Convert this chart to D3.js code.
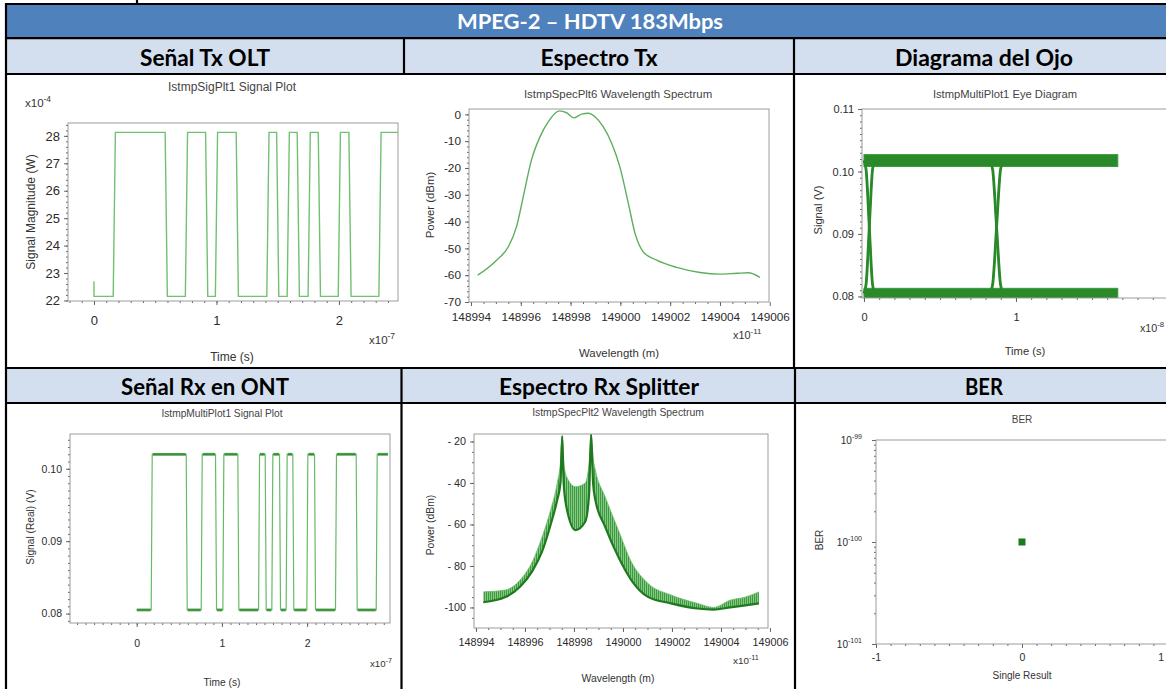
<!DOCTYPE html>
<html>
<head>
<meta charset="utf-8">
<script src="https://cdn.jsdelivr.net/npm/d3@7"></script>
<style>
  html, body { margin: 0; padding: 0; background: #fff; }
  svg { display: block; }
</style>
</head>
<body>
<svg id="chart" width="1166" height="689"></svg>
<script>
// ---------------- table text ----------------
const tableTitle = "MPEG-2 – HDTV 183Mbps";
const headersRow1 = ["Señal Tx OLT", "Espectro Tx", "Diagrama del Ojo"];
const headersRow2 = ["Señal Rx en ONT", "Espectro Rx Splitter", "BER"];

// ---------------- Tx signal (x10^-4 W vs x10^-7 s) ----------------
const txEdges = [0.166, 0.59, 0.755, 0.92, 1.0, 1.17, 1.42, 1.50, 1.586, 1.668, 1.757, 1.84, 2.003, 2.09, 2.335];
const txLevels = [22.15, 28.13];      // low, high
const txStartSpike = 22.7;            // value at t = 0
const txEnd = 2.485;

// ---------------- Tx spectrum (x10^-11 m, dBm) ----------------
const txSpecLambda = [148994.27, 148995.03, 148995.5, 148995.83, 148996.1, 148996.43, 148996.77, 148997.1,
  148997.55, 148997.84, 148998.14, 148998.45, 148998.71, 148998.98, 148999.31, 148999.65, 148999.98,
  149000.32, 149000.59, 149000.92, 149001.46, 149002.26, 149003.2, 149004.0, 149004.67, 149005.14, 149005.6];
const txSpecPower = [-60.0, -54.4, -49.4, -41.9, -30.7, -17.0, -8.4, -2.8,
  1.3, 0.6, -1.3, 0.1, 0.4, -0.9, -4.6, -10.8, -19.6,
  -33.2, -44.4, -51.3, -54.4, -57.1, -59.0, -59.6, -59.3, -59.1, -60.8];

// ---------------- Eye diagram (V vs x10^-8 s) ----------------
const eyeBandHigh = [0.1008, 0.1027];
const eyeBandLow = [0.0797, 0.0813];
const eyeSpan = [0, 1.67];
const eyeCrossStart = [0.0, 0.83];
const eyeCrossWidth = [0.07, 0.085];

// ---------------- Rx signal (V vs x10^-7 s) ----------------
const rxEdges = [0.176, 0.587, 0.763, 0.931, 1.017, 1.193, 1.436, 1.514, 1.592, 1.682, 1.76, 1.838, 2.003, 2.093, 2.339, 2.582, 2.817];
const rxLevels = [0.0805, 0.1020];
const rxEnd = 2.95;

// ---------------- Rx spectrum after splitter (x10^-11 m, dBm) ----------------
const rxSpecLambda = [148994.3, 148995.2, 148995.8, 148996.3, 148996.7, 148997.05, 148997.32, 148997.45,
  148997.52, 148997.58, 148997.7, 148998.06, 148998.46, 148998.62, 148998.7, 148998.78, 148998.87,
  148999.27, 148999.81, 149000.34, 149001.02, 149001.96, 149003.03, 149003.7, 149004.38, 149005.0, 149005.55];
const rxSpecUpper = [-92.5, -91.6, -86.8, -78, -66, -53, -40, -30,
  -17.4, -30, -37, -41.8, -40, -30, -16.5, -28, -33.7,
  -46.6, -62.7, -78, -88.4, -94, -98, -100, -96.5, -95, -92.5];
const rxSpecLower = [-97.5, -95, -90, -82.5, -73, -60, -48, -40,
  -17.4, -40, -52, -62.7, -58.7, -45, -16.5, -40, -48,
  -61, -75.6, -86.8, -94.9, -98, -100.5, -101, -100, -99, -98];

// ---------------- BER ----------------
const berX = [0];
const berValue = [1e-100];

// ---------------- drawing ----------------
const svg = d3.select("#chart");
const PLOT_FONT = "'Liberation Sans', Arial, sans-serif";
const TABLE_FONT = "Lato, 'Open Sans', sans-serif";

svg.append("rect").attr("width", 1166).attr("height", 689).attr("fill", "#fff");

// table bands
const T = { left: 6, right: 1174 };
svg.append("rect").attr("x", T.left).attr("y", 4).attr("width", T.right - T.left).attr("height", 34).attr("fill", "#4F81BD");
svg.append("rect").attr("x", T.left).attr("y", 39).attr("width", T.right - T.left).attr("height", 35).attr("fill", "#D3DFEE");
svg.append("rect").attr("x", T.left).attr("y", 369).attr("width", T.right - T.left).attr("height", 34).attr("fill", "#D3DFEE");

// table text
svg.append("text").attr("x", 590).attr("y", 29).attr("text-anchor", "middle")
  .attr("fill", "#fff").style("font-family", TABLE_FONT).style("font-weight", 700).style("font-size", "21px")
  .attr("textLength", 266).attr("lengthAdjust", "spacingAndGlyphs").text(tableTitle);

const colCenters = [205, 599, 984];
const widths1 = [130, 117, 178];
const widths2 = [168, 200, 38];
headersRow1.forEach((h, i) => {
  svg.append("text").attr("x", colCenters[i]).attr("y", 66).attr("text-anchor", "middle")
    .attr("fill", "#000").style("font-family", TABLE_FONT).style("font-weight", 700).style("font-size", "22px")
    .attr("textLength", widths1[i]).attr("lengthAdjust", "spacingAndGlyphs").text(h);
});
headersRow2.forEach((h, i) => {
  svg.append("text").attr("x", colCenters[i]).attr("y", 395).attr("text-anchor", "middle")
    .attr("fill", "#000").style("font-family", TABLE_FONT).style("font-weight", 700).style("font-size", "22px")
    .attr("textLength", widths2[i]).attr("lengthAdjust", "spacingAndGlyphs").text(h);
});

// ---------------- generic instrument-style plot ----------------
let clipId = 0;
function plotPanel(o) {
  const [fx0, fx1, fy0, fy1] = o.frame;
  const g = svg.append("g");
  const x = (o.xLog ? d3.scaleLog() : d3.scaleLinear()).domain(o.xDomain).range([fx0, fx1]);
  const y = (o.yLog ? d3.scaleLog() : d3.scaleLinear()).domain(o.yDomain).range([fy1, fy0]);
  const fs = o.fontSize, tfs = o.tickFont;

  const styleAxis = sel => {
    sel.select(".domain").remove();
    sel.selectAll(".tick line").attr("stroke", "#555").attr("stroke-width", 0.9);
    sel.selectAll(".tick text").attr("fill", "#2b2b2b").style("font-family", PLOT_FONT).style("font-size", tfs + "px");
  };

  // minor + major ticks
  g.append("g").attr("transform", `translate(${fx0},0)`)
    .call(d3.axisLeft(y).tickValues(o.yMinor).tickSize(2).tickFormat("")).call(styleAxis);
  g.append("g").attr("transform", `translate(${fx0},0)`)
    .call(d3.axisLeft(y).tickValues(o.yMajor).tickSize(4).tickPadding(4).tickFormat(o.yFormat || "")).call(styleAxis);
  g.append("g").attr("transform", `translate(0,${fy1})`)
    .call(d3.axisBottom(x).tickValues(o.xMinor).tickSize(2).tickFormat("")).call(styleAxis);
  g.append("g").attr("transform", `translate(0,${fy1})`)
    .call(d3.axisBottom(x).tickValues(o.xMajor).tickSize(4).tickPadding(o.xPad).tickFormat(o.xFormat || (d => String(d)))).call(styleAxis);

  // plot content, clipped to the frame
  const id = "clip" + (clipId++);
  g.append("clipPath").attr("id", id).append("rect")
    .attr("x", fx0).attr("y", fy0).attr("width", fx1 - fx0).attr("height", fy1 - fy0);
  const content = g.append("g").attr("clip-path", `url(#${id})`);

  // frame
  g.append("rect").attr("x", fx0).attr("y", fy0).attr("width", fx1 - fx0).attr("height", fy1 - fy0)
    .attr("fill", "none").attr("stroke", "#9c9c9c").attr("stroke-width", 1);

  const txt = (tx, ty, s, anchor, size, color) => g.append("text").attr("x", tx).attr("y", ty)
    .attr("text-anchor", anchor || "middle").attr("fill", color || "#333")
    .style("font-family", PLOT_FONT).style("font-size", (size || fs) + "px").text(s);

  txt(o.title[0], o.title[1], o.title[2], "middle", fs, "#444");
  txt(o.xTitle[0], o.xTitle[1], o.xTitle[2]);
  g.append("text").attr("transform", `translate(${o.yTitle[0]},${o.yTitle[1]}) rotate(-90)`)
    .attr("text-anchor", "middle").attr("fill", "#333")
    .style("font-family", PLOT_FONT).style("font-size", fs + "px").text(o.yTitle[2]);

  (o.exps || []).forEach(e => {
    const t = txt(e[0], e[1], "x10", "start", fs - 0.5);
    t.append("tspan").attr("dy", -(fs * 0.42)).style("font-size", (fs * 0.7) + "px").text(e[2]);
  });
  return { g, content, x, y };
}

const stepRange = (a, b, s) => d3.range(Math.round(a / s), Math.round(b / s) + 1).map(k => +(k * s).toFixed(6));

// square wave through the read transition times
function squareWave(edges, lo, hi, tEnd, rise, startValue) {
  const pts = [[0, startValue], [0, lo]];
  let level = lo;
  edges.forEach(e => {
    pts.push([e - rise / 2, level]);
    level = level === lo ? hi : lo;
    pts.push([e + rise / 2, level]);
  });
  pts.push([tEnd, level]);
  return pts;
}

// ---------- Panel 1: Señal Tx OLT ----------
{
  const p = plotPanel({
    frame: [68, 398, 123, 301],
    xDomain: [-0.212, 2.482], yDomain: [21.98, 28.47],
    xMajor: [0, 1, 2], xMinor: stepRange(-0.2, 2.4, 0.1),
    yMajor: [22, 23, 24, 25, 26, 27, 28], yMinor: stepRange(22, 28.4, 0.2),
    yFormat: d => String(d), xPad: 10.3,
    fontSize: 12, tickFont: 13,
    title: [232, 91, "IstmpSigPlt1 Signal Plot"],
    xTitle: [232, 361, "Time (s)"],
    yTitle: [35, 212, "Signal Magnitude (W)"],
    exps: [[25, 107, "-4"], [369, 344, "-7"]]
  });
  const pts = squareWave(txEdges, txLevels[0], txLevels[1], txEnd, 0.018, txStartSpike);
  p.content.append("path").datum(pts)
    .attr("d", d3.line().x(d => p.x(d[0])).y(d => p.y(d[1])))
    .attr("fill", "none").attr("stroke", "#72C172").attr("stroke-width", 1.4);
}

// ---------- Panel 2: Espectro Tx ----------
{
  const p = plotPanel({
    frame: [469, 769, 109, 302],
    xDomain: [148993.92, 149005.97], yDomain: [-70, 2],
    xMajor: d3.range(148994, 149007, 2), xMinor: stepRange(148994, 149005.5, 0.5),
    yMajor: d3.range(-70, 1, 10), yMinor: d3.range(-70, 1, 2),
    yFormat: d => String(d), xPad: 6.9,
    fontSize: 11.4, tickFont: 11.8,
    title: [618, 98, "IstmpSpecPlt6 Wavelength Spectrum"],
    xTitle: [619, 357, "Wavelength (m)"],
    yTitle: [434, 205, "Power (dBm)"],
    exps: [[733, 339, "-11"]]
  });
  p.content.append("path").datum(txSpecLambda.map((l, i) => [l, txSpecPower[i]]))
    .attr("d", d3.line().curve(d3.curveMonotoneX).x(d => p.x(d[0])).y(d => p.y(d[1])))
    .attr("fill", "none").attr("stroke", "#5DAE5D").attr("stroke-width", 1.4);
}

// ---------- Panel 3: Diagrama del Ojo ----------
{
  const p = plotPanel({
    frame: [862, 1176, 109, 298],
    xDomain: [-0.013, 2.053], yDomain: [0.07975, 0.11],
    xMajor: [0, 1], xMinor: stepRange(0, 2, 0.1),
    yMajor: [0.08, 0.09, 0.10, 0.11], yMinor: stepRange(0.08, 0.11, 0.001),
    yFormat: d3.format(".2f"), xPad: 11,
    fontSize: 11.2, tickFont: 11,
    title: [1005, 98, "IstmpMultiPlot1 Eye Diagram"],
    xTitle: [1025, 355, "Time (s)"],
    yTitle: [822, 210, "Signal (V)"],
    exps: [[1140, 332, "-8"]]
  });
  const green = "#2A8A2A";
  [eyeBandHigh, eyeBandLow].forEach(b => {
    p.content.append("rect")
      .attr("x", p.x(eyeSpan[0])).attr("width", p.x(eyeSpan[1]) - p.x(eyeSpan[0]))
      .attr("y", p.y(b[1])).attr("height", p.y(b[0]) - p.y(b[1]))
      .attr("fill", green).attr("stroke", "#3C9A3C").attr("stroke-width", 1);
  });
  const hi = d3.mean(eyeBandHigh), lo = d3.mean(eyeBandLow), dv = hi - lo;
  const line = d3.line().curve(d3.curveMonotoneX).x(d => p.x(d[0])).y(d => p.y(d[1]));
  eyeCrossStart.forEach((c, i) => {
    const w = eyeCrossWidth[i];
    [[hi, lo], [lo, hi]].forEach(([a, b]) => {
      [-0.004, 0, 0.004].forEach(off => {
        const s = Math.sign(b - a);
        const pts = [[c + off, a], [c + off + 0.2 * w, a + s * 0.07 * dv], [c + off + 0.5 * w, (a + b) / 2],
                     [c + off + 0.8 * w, b - s * 0.07 * dv], [c + off + w, b]];
        p.content.append("path").datum(pts).attr("d", line)
          .attr("fill", "none").attr("stroke", green).attr("stroke-width", 1.6);
      });
    });
  });
}

// ---------- Panel 4: Señal Rx en ONT ----------
{
  const p = plotPanel({
    frame: [70, 390, 434, 623],
    xDomain: [-0.783, 2.973], yDomain: [0.0787, 0.1048],
    xMajor: [0, 1, 2], xMinor: stepRange(-0.7, 2.9, 0.1),
    yMajor: [0.08, 0.09, 0.10], yMinor: stepRange(0.079, 0.104, 0.001),
    yFormat: d3.format(".2f"), xPad: 13,
    fontSize: 10.2, tickFont: 10.5,
    title: [222, 417, "IstmpMultiPlot1 Signal Plot"],
    xTitle: [222, 686, "Time (s)"],
    yTitle: [34, 527, "Signal (Real) (V)"],
    exps: [[370, 667, "-7"]]
  });
  const rise = 0.012;
  const pts = squareWave(rxEdges, rxLevels[0], rxLevels[1], rxEnd, rise, rxLevels[0]);
  const line = d3.line().x(d => p.x(d[0])).y(d => p.y(d[1]));
  p.content.append("path").datum(pts).attr("d", line)
    .attr("fill", "none").attr("stroke", "#66BB66").attr("stroke-width", 1.2);
  // noisy plateaus drawn heavier
  const bounds = [0, ...rxEdges, rxEnd];
  for (let i = 0; i < bounds.length - 1; i++) {
    const lv = i % 2 === 0 ? rxLevels[0] : rxLevels[1];
    const a = bounds[i] + (i === 0 ? 0 : rise), b = bounds[i + 1] - (i === bounds.length - 2 ? 0 : rise);
    p.content.append("path").datum([[a, lv], [b, lv]]).attr("d", line)
      .attr("fill", "none").attr("stroke", "#2E8B2E").attr("stroke-width", 2.8).attr("stroke-opacity", 0.85);
  }
}

// ---------- Panel 5: Espectro Rx Splitter ----------
{
  const p = plotPanel({
    frame: [474, 768, 434, 628],
    xDomain: [148993.92, 149005.92], yDomain: [-109.9, -16.4],
    xMajor: d3.range(148994, 149007, 2), xMinor: stepRange(148994, 149005.5, 0.5),
    yMajor: [-100, -80, -60, -40, -20], yMinor: d3.range(-105, -16, 5),
    yFormat: d => (d <= -100 ? String(d) : "- " + Math.abs(d)), xPad: 6.3,
    fontSize: 10.4, tickFont: 10.8,
    title: [618, 416, "IstmpSpecPlt2 Wavelength Spectrum"],
    xTitle: [618, 682, "Wavelength (m)"],
    yTitle: [434, 525, "Power (dBm)"],
    exps: [[733, 664, "-11"]]
  });
  const defs = svg.append("defs");
  const pat = defs.append("pattern").attr("id", "specHatch").attr("patternUnits", "userSpaceOnUse")
    .attr("width", 2).attr("height", 4);
  pat.append("rect").attr("width", 2).attr("height", 4).attr("fill", "#86C886");
  pat.append("rect").attr("width", 1).attr("height", 4).attr("fill", "#3E9A3E");

  const rows = rxSpecLambda.map((l, i) => ({ l, u: rxSpecUpper[i], d: rxSpecLower[i] }));
  p.content.append("path").datum(rows)
    .attr("d", d3.area().curve(d3.curveMonotoneX).x(d => p.x(d.l)).y0(d => p.y(d.d)).y1(d => p.y(d.u)))
    .attr("fill", "url(#specHatch)");
  p.content.append("path").datum(rows)
    .attr("d", d3.line().curve(d3.curveMonotoneX).x(d => p.x(d.l)).y(d => p.y(d.u)))
    .attr("fill", "none").attr("stroke", "#70BE70").attr("stroke-width", 0.9);
  p.content.append("path").datum(rows)
    .attr("d", d3.line().curve(d3.curveMonotoneX).x(d => p.x(d.l)).y(d => p.y(d.d)))
    .attr("fill", "none").attr("stroke", "#1F7A1F").attr("stroke-width", 2.2);
}

// ---------- Panel 6: BER ----------
{
  const p = plotPanel({
    frame: [876, 1168, 440, 644],
    xDomain: [-1, 1], yDomain: [1e-101, 1e-99], yLog: true,
    xMajor: [-1, 0], xMinor: stepRange(-1, 1, 0.1),
    yMajor: [1e-101, 1e-100, 1e-99],
    yMinor: [2, 3, 4, 5, 6, 7, 8, 9].flatMap(k => [k * 1e-101, k * 1e-100]),
    yFormat: "", xPad: 5.4,
    fontSize: 10, tickFont: 10.5,
    title: [1022, 423, "BER"],
    xTitle: [1022, 679, "Single Result"],
    yTitle: [823, 540, "BER"],
    exps: []
  });
  // the "1" tick label sits right at the edge of the cell
  p.g.append("text").attr("x", 1164).attr("y", 661).attr("text-anchor", "end")
    .attr("fill", "#2b2b2b").style("font-family", PLOT_FONT).style("font-size", "10.5px").text("1");
  [1e-101, 1e-100, 1e-99].forEach(v => {
    const t = p.g.append("text").attr("x", 862).attr("y", p.y(v) + 3.5).attr("text-anchor", "end")
      .attr("fill", "#2b2b2b").style("font-family", PLOT_FONT).style("font-size", "10px").text("10");
    t.append("tspan").attr("dy", -4.5).style("font-size", "7px").text(String(Math.round(Math.log10(v))));
  });
  p.content.selectAll("rect.pt").data(berX.map((b, i) => [b, berValue[i]])).join("rect")
    .attr("class", "pt")
    .attr("x", d => p.x(d[0]) - 3.5).attr("y", d => p.y(d[1]) - 3.5)
    .attr("width", 7).attr("height", 7).attr("fill", "#1C7A1C");
}

// ---------------- table rules (on top) ----------------
const rule = (x1, y1, x2, y2) => svg.append("line").attr("x1", x1).attr("y1", y1).attr("x2", x2).attr("y2", y2)
  .attr("stroke", "#000").attr("stroke-width", 2.2);
rule(T.left, 4, T.right, 4);
rule(T.left, 38.2, T.right, 38.2);
rule(T.left, 74, T.right, 74);
rule(T.left, 368, T.right, 368);
rule(T.left, 403, T.right, 403);
rule(T.left, 3, T.left, 689);
rule(404, 38, 404, 74);
rule(794, 38, 794, 368);
rule(401.5, 368, 401.5, 689);
rule(795, 368, 795, 689);
rule(137, 0, 137, 4);
</script>
</body>
</html>
